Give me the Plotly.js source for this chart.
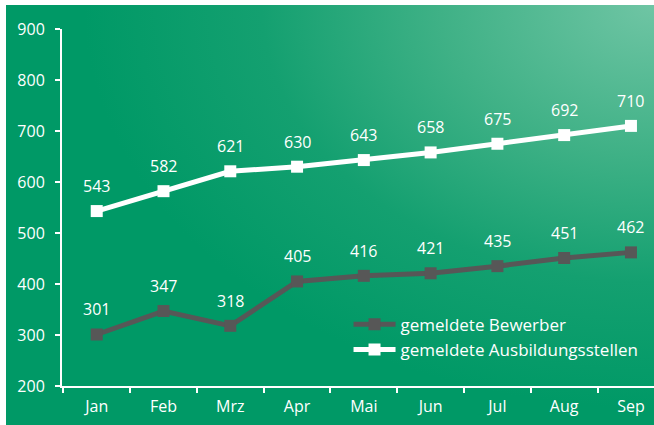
<!DOCTYPE html>
<html>
<head>
<meta charset="utf-8">
<script src="https://cdn.plot.ly/plotly-3.0.1.min.js"></script>
<style>
  html, body { margin: 0; padding: 0; background: #ffffff; }
  #wrap { position: relative; width: 654px; height: 425px; overflow: hidden; }
  #bg { position: absolute; left: 6px; top: 5px; width: 648px; height: 420px;
        background: radial-gradient(ellipse 110% 120% at 100% 0%, #6fc5a4 0%, #3fb186 30%, #14a070 55%, #009966 80%); }
  #chart { position: absolute; left: 0; top: 0; width: 654px; height: 425px; }
</style>
</head>
<body>
<div id="wrap">
  <div id="bg"></div>
  <div id="chart"></div>
</div>
<script>
const months = ["Jan", "Feb", "Mrz", "Apr", "Mai", "Jun", "Jul", "Aug", "Sep"];
const bewerber = [301, 347, 318, 405, 416, 421, 435, 451, 462];
const stellen = [543, 582, 621, 630, 643, 658, 675, 692, 710];
const yTicks = [200, 300, 400, 500, 600, 700, 800, 900];
const seriesNames = ["gemeldete Bewerber", "gemeldete Ausbildungsstellen"];

const FONT = "'Open Sans', 'DejaVu Sans', sans-serif";

const traces = [
  {
    x: months, y: bewerber, name: seriesNames[0], type: "scatter", mode: "lines+markers",
    line: { color: "#575757", width: 5 },
    marker: { symbol: "square", size: 12, color: "#575757" },
    hoverinfo: "skip"
  },
  {
    x: months, y: stellen, name: seriesNames[1], type: "scatter", mode: "lines+markers",
    line: { color: "#ffffff", width: 5 },
    marker: { symbol: "square", size: 12, color: "#ffffff" },
    hoverinfo: "skip"
  }
];

const annotations = [];
[bewerber, stellen].forEach(arr => {
  arr.forEach((v, i) => {
    annotations.push({
      x: months[i], y: v, xref: "x", yref: "y", text: String(v),
      showarrow: false, yshift: 25,
      font: { family: FONT, size: 16, color: "#ffffff" }
    });
  });
});

const layout = {
  width: 654, height: 425,
  margin: { l: 62, r: 0, t: 29, b: 39 },
  paper_bgcolor: "rgba(0,0,0,0)",
  plot_bgcolor: "rgba(0,0,0,0)",
  showlegend: true,
  legend: {
    x: 0.484, y: 0.222, xanchor: "left", yanchor: "top",
    bgcolor: "rgba(0,0,0,0)",
    font: { family: FONT, size: 17, color: "#ffffff" },
    tracegroupgap: 0, itemwidth: 42
  },
  xaxis: {
    type: "category", range: [-0.52, 8.345],
    showgrid: false, zeroline: false,
    showline: true, linecolor: "#ffffff", linewidth: 2,
    ticks: "outside", ticklen: 5, tickwidth: 2, tickcolor: "#ffffff",
    tickson: "boundaries",
    ticklabelstandoff: 5,
    tickfont: { family: FONT, size: 16, color: "#ffffff" }
  },
  yaxis: {
    range: [200, 900], tickvals: yTicks, ticktext: yTicks.map(String),
    showgrid: false, zeroline: false,
    showline: true, linecolor: "#ffffff", linewidth: 2,
    ticks: "outside", ticklen: 5, tickwidth: 2, tickcolor: "#ffffff",
    ticklabelstandoff: 7,
    tickfont: { family: FONT, size: 16, color: "#ffffff" }
  },
  annotations: annotations
};

Plotly.newPlot("chart", traces, layout, { displayModeBar: false, staticPlot: true });
</script>
</body>
</html>
